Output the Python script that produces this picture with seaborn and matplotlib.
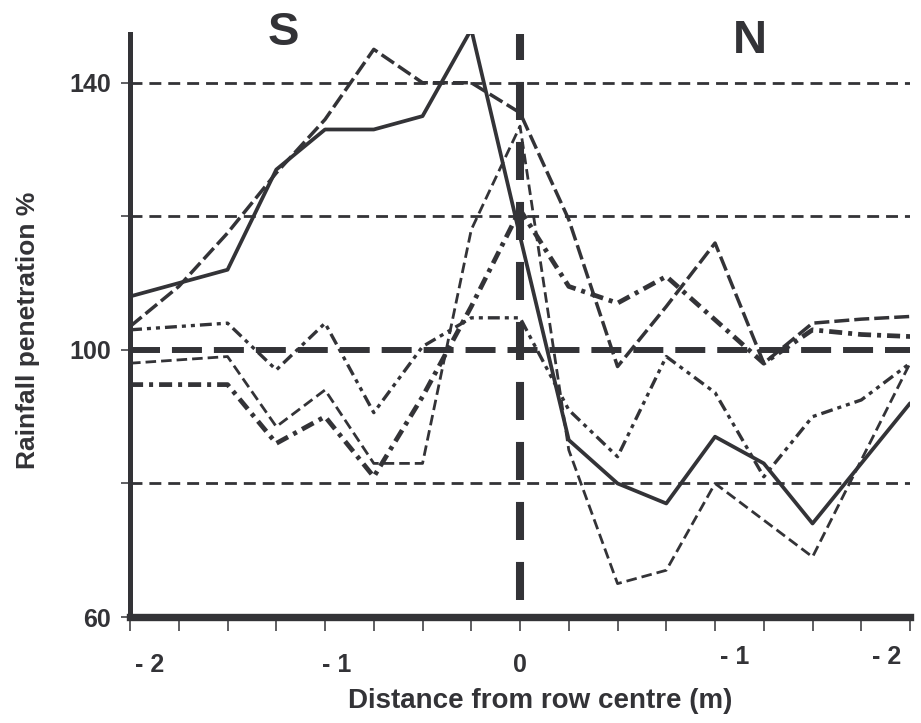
import matplotlib
matplotlib.use("Agg")
import matplotlib.pyplot as plt
import seaborn as sns
from matplotlib.transforms import ScaledTranslation

# ---- data ----
distance = [-2, -1.75, -1.5, -1.25, -1, -0.75, -0.5, -0.25, 0,
            0.25, 0.5, 0.75, 1, 1.25, 1.5, 1.75, 2]
tick_labels = ["- 2", "", "", "", "- 1", "", "", "", "0",
               "", "", "", "- 1", "", "", "", "- 2"]
series_solid = [108, 110, 112, 127, 133, 133, 135, 148, 117,
                86.5, 80, 77, 87, 83, 74, 83, 92]
series_longdash = [103.5, 109.5, 117.5, 126.5, 134.5, 145, 140, 140, 135.5,
                   119.5, 97.5, 106.5, 116, 98, 104, 104.6, 105]
series_shortdash = [98, 98.5, 99, 88.5, 94, 83, 83, 118, 133.5,
                    85, 65, 67, 80, 74.5, 69, 83.5, 98]
series_dashdot = [94.8, 94.8, 94.8, 86, 90, 81, 93, 106.5, 121,
                  109.5, 107, 111, 104.5, 98, 103, 102.3, 102]
series_dashdotdot = [103, 103.5, 104, 97, 104, 90.6, 100.5, 104.8, 104.8,
                     91, 84, 99, 93.6, 81, 90, 92.5, 98]
y_ticks = [60, 80, 100, 120, 140]
y_tick_labels = ["60", "", "100", "", "140"]
grid_levels = [80, 120, 140]
reference_level = 100

# ---- style ----
sns.set_theme(style="white")
plt.rcParams['font.family'] = ['Liberation Sans', 'DejaVu Sans']
plt.rcParams['font.weight'] = 'bold'
plt.rcParams['lines.scale_dashes'] = False
ink = '#333337'

fig = plt.figure(figsize=(9.21, 7.23), dpi=100)
ax = fig.add_axes([0.1412, 0.1466, 0.8469, 0.8064])

ymin, ymax = 60, 147.3
ax.set_xlim(-2, 2)
ax.set_ylim(ymin, ymax)

# horizontal grid lines
for g in grid_levels:
    ax.axhline(g, color=ink, lw=2.0, linestyle=(0, (8.6, 5.0)), zorder=1)

lines = [
    (series_solid, '-', 2.7),
    (series_longdash, (0, (10.8, 3.6)), 2.5),
    (series_shortdash, (0, (7.6, 3.6)), 2.0),
    (series_dashdot, (0, (9.4, 4.3, 2.9, 4.3)), 3.4),
    (series_dashdotdot, (0, (8.6, 3.6, 2.9, 3.6, 2.9, 3.6)), 2.4),
]
for vals, ls, lw in lines:
    sns.lineplot(x=distance, y=vals, ax=ax, color=ink, lw=lw,
                 linestyle=ls, zorder=3)

# reference lines
ax.axhline(reference_level, color=ink, lw=4.3, linestyle=(0, (21.6, 8.6)), zorder=4)
ax.axvline(0, ymin=2.5 / (ymax - ymin), ymax=1, color=ink, lw=5.8,
           linestyle=(0, (27.4, 15.8)), zorder=4)

# spines
for side in ['top', 'right']:
    ax.spines[side].set_visible(False)
ax.spines['left'].set_linewidth(3.6)
ax.spines['bottom'].set_linewidth(5.3)
for side in ['left', 'bottom']:
    ax.spines[side].set_color(ink)
    ax.spines[side].set_zorder(5)

ax.set_xticks(distance)
ax.set_xticklabels(tick_labels)
ax.set_yticks(y_ticks)
ax.set_yticklabels(y_tick_labels)
ax.tick_params(axis='x', direction='out', length=10, width=1.1, color=ink,
               labelsize=18, pad=16, labelcolor=ink, bottom=True)
ax.tick_params(axis='y', direction='out', length=6.5, width=1.1, color=ink,
               labelsize=18, pad=7, labelcolor=ink, left=True)

# per-label offsets (pixels) to mimic the original placement
offsets = {0: (20, 0), 4: (12, 0), 8: (0, 0), 12: (20, 8), 16: (-23, 8)}
for i, lab in enumerate(ax.get_xticklabels()):
    if i in offsets:
        dx, dy = offsets[i]
        lab.set_transform(lab.get_transform() +
                          ScaledTranslation(dx / 100, dy / 100, fig.dpi_scale_trans))

ax.set_xlabel("Distance from row centre (m)", fontsize=20, fontweight='bold', color=ink)
ax.xaxis.set_label_coords(0.526, -0.122)
ax.set_ylabel("Rainfall penetration %", fontsize=19, fontweight='bold', color=ink)
ax.yaxis.set_label_coords(-0.115, 0.492)

ax.text(0.196, 1.002, "S", transform=ax.transAxes, fontsize=34, fontweight='bold',
        ha='center', va='center', color=ink, clip_on=False)
ax.text(0.795, 0.988, "N", transform=ax.transAxes, fontsize=34, fontweight='bold',
        ha='center', va='center', color=ink, clip_on=False)

fig.savefig("out.png", dpi=100)
